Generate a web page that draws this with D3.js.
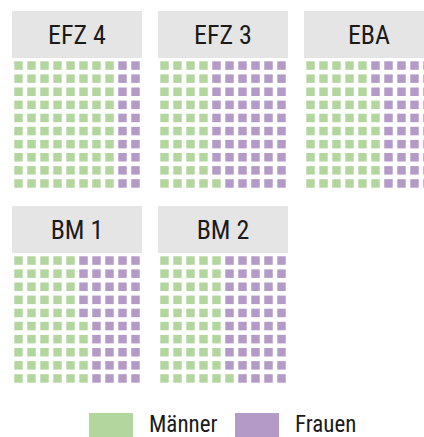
<!DOCTYPE html>
<html>
<head>
    <meta charset="utf-8">
    <script src="https://d3js.org/d3.v7.min.js"></script>
    <style>
        body { margin: 0; background: #fff; }
        text { font-family: "Liberation Sans Narrow", "Arial Narrow", "Roboto Condensed", sans-serif; fill: #1a1a1a; }
    </style>
</head>
<body>
    <div id="my_dataviz"></div>
    <script>
        // data: share of men / women per category (out of 100 squares)
        var categories = ["EFZ 4", "EFZ 3", "EBA", "BM 1", "BM 2"];
        var maenner = [80, 41, 57, 55, 51];
        var frauen = [20, 59, 43, 45, 49];
        var legendLabels = ["Männer", "Frauen"];
        var colors = ["#b3d69f", "#b49ac7"];

        var width = 424, height = 437;
        var panelW = 130, headerH = 47, gridH = 131;

        var svg = d3.select("#my_dataviz")
            .append("svg")
            .attr("width", width)
            .attr("height", height);

        // panel positions (3 per row)
        var px = d3.scaleBand()
            .domain([0, 1, 2])
            .range([12, 12 + 3 * panelW + 2 * 16])
            .paddingInner(16 / 146);
        var py = d3.scaleOrdinal().domain([0, 1]).range([11, 206]);

        // cells inside a panel
        var cx = d3.scaleBand().domain(d3.range(10)).range([0, panelW])
            .paddingInner(0.35).paddingOuter(0.175);
        var cy = d3.scaleBand().domain(d3.range(10)).range([0, gridH])
            .paddingInner(0.35).paddingOuter(0.175);

        categories.forEach(function (cat, k) {
            var g = svg.append("g")
                .attr("transform", "translate(" + px(k % 3) + "," + py(Math.floor(k / 3)) + ")");

            g.append("rect")
                .attr("width", panelW)
                .attr("height", headerH)
                .attr("fill", "#e5e5e5");

            g.append("text")
                .attr("x", panelW / 2)
                .attr("y", 33)
                .attr("text-anchor", "middle")
                .style("font-size", "26px")
                .text(cat);

            // fill column by column, bottom to top
            var cells = d3.range(maenner[k] + frauen[k]).map(function (i) {
                return { col: Math.floor(i / 10), row: 9 - (i % 10), s: i < maenner[k] ? 0 : 1 };
            });

            g.append("g")
                .attr("transform", "translate(0," + (headerH + 1) + ")")
                .selectAll("rect")
                .data(cells)
                .join("rect")
                .attr("x", function (d) { return cx(d.col); })
                .attr("y", function (d) { return cy(d.row); })
                .attr("width", cx.bandwidth())
                .attr("height", cy.bandwidth())
                .attr("fill", function (d) { return colors[d.s]; });
        });

        // legend
        var lx = d3.scaleOrdinal().domain([0, 1]).range([89, 235]);
        legendLabels.forEach(function (lab, i) {
            svg.append("rect")
                .attr("x", lx(i))
                .attr("y", 413)
                .attr("width", 44)
                .attr("height", 24)
                .attr("fill", colors[i]);
            svg.append("text")
                .attr("x", lx(i) + 60)
                .attr("y", 432)
                .style("font-size", "23px")
                .text(lab);
        });
    </script>
</body>
</html>
